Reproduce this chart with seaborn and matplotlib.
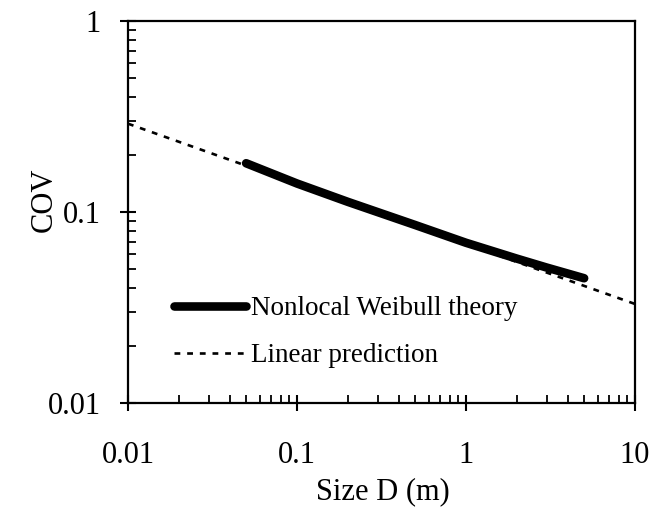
import matplotlib
matplotlib.use("Agg")
import matplotlib.pyplot as plt
import seaborn as sns
import pandas as pd
from matplotlib.ticker import LogLocator, FixedLocator, FixedFormatter, NullFormatter

sns.set_style("white")
plt.rcParams['font.family'] = ['Liberation Serif', 'DejaVu Serif']
plt.rcParams['text.color'] = 'black'
plt.rcParams['axes.labelcolor'] = 'black'

# Data
weibull_x = [0.05, 0.1, 0.2, 0.5, 1.0, 2.0, 3.0, 5.0]
weibull_y = [0.180, 0.141, 0.113, 0.0855, 0.0690, 0.0570, 0.0512, 0.0450]
linear_x = [0.01, 10.0]
linear_y = [0.290, 0.0330]
x_ticks = [0.01, 0.1, 1, 10]
x_tick_labels = ["0.01", "0.1", "1", "10"]
y_ticks = [0.01, 0.1, 1]
y_tick_labels = ["0.01", "0.1", "1"]

df_w = pd.DataFrame({"x": weibull_x, "y": weibull_y})
df_l = pd.DataFrame({"x": linear_x, "y": linear_y})

fig = plt.figure(figsize=(6.68, 5.07), dpi=100)
ax = fig.add_axes([128/668, 1-403/507, (635-128)/668, (403-21)/507])

sns.lineplot(data=df_l, x="x", y="y", ax=ax, color="black", lw=1.9,
             linestyle=(0, (2.2, 2.6)), label="Linear prediction")
sns.lineplot(data=df_w, x="x", y="y", ax=ax, color="black", lw=6.2,
             solid_capstyle="round", label="Nonlocal Weibull theory")

ax.set_xscale("log")
ax.set_yscale("log")
ax.set_xlim(0.01, 10)
ax.set_ylim(0.01, 1)

ax.xaxis.set_major_locator(FixedLocator(x_ticks))
ax.xaxis.set_major_formatter(FixedFormatter(x_tick_labels))
ax.yaxis.set_major_locator(FixedLocator(y_ticks))
ax.yaxis.set_major_formatter(FixedFormatter(y_tick_labels))
ax.xaxis.set_minor_locator(LogLocator(base=10, subs=range(2, 10)))
ax.yaxis.set_minor_locator(LogLocator(base=10, subs=range(2, 10)))
ax.xaxis.set_minor_formatter(NullFormatter())
ax.yaxis.set_minor_formatter(NullFormatter())

ax.tick_params(axis="both", which="major", direction="inout", length=11, width=1.5,
               labelsize=22, colors="black", labelcolor="black",
               bottom=True, left=True, top=False, right=False)
ax.tick_params(axis="x", which="major", pad=22)
ax.tick_params(axis="y", which="major", pad=14)
ax.tick_params(axis="both", which="minor", direction="in", length=6, width=1.3,
               colors="black", bottom=True, left=True, top=False, right=False)

for s in ax.spines.values():
    s.set_color("black")
    s.set_linewidth(1.6)

ax.set_xlabel("Size D (m)", fontsize=22, color="black")
ax.set_ylabel("COV", fontsize=22, color="black")
ax.xaxis.set_label_coords(0.503, -0.194)
ax.yaxis.set_label_coords(-0.136, 0.531)

handles, labels = ax.get_legend_handles_labels()
order = [1, 0]
leg = ax.legend([handles[i] for i in order], [labels[i] for i in order],
                loc="upper left", bbox_to_anchor=(0.043, 0.343), frameon=False,
                fontsize=19.5, handlelength=2.65, handletextpad=0.2, labelspacing=0.8)
for t in leg.get_texts():
    t.set_color("black")

fig.savefig("out.png", dpi=100)
